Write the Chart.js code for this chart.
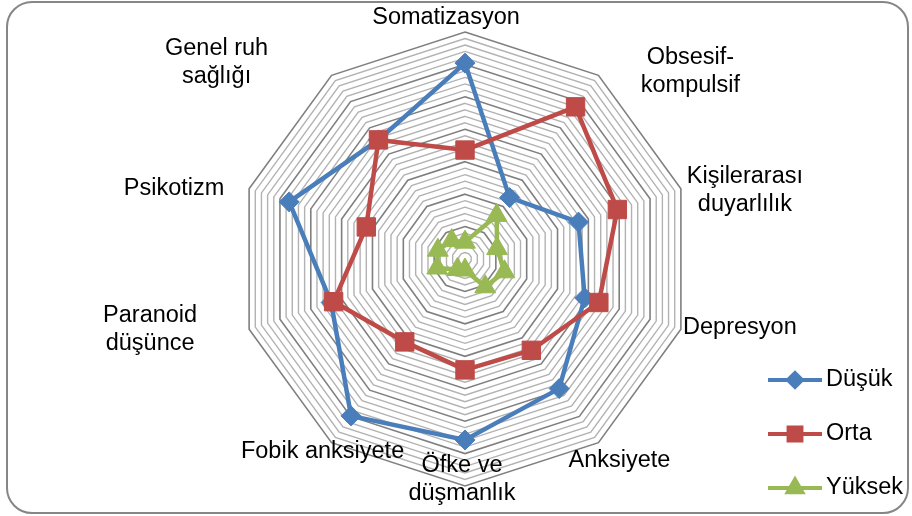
<!DOCTYPE html>
<html>
<head>
<meta charset="utf-8">
<script src="https://cdn.jsdelivr.net/npm/chart.js@4.4.0/dist/chart.umd.min.js"></script>
<style>
  html, body { margin: 0; padding: 0; background: #fff; }
  #wrap { width: 912px; height: 516px; position: relative; }
</style>
</head>
<body>
<div id="wrap"><canvas id="radar"></canvas></div>
<script>
// axes, clockwise from the top
const categories = [
    'Somatizasyon',
    ['Obsesif-', 'kompulsif'],
    ['Kişilerarası', 'duyarlılık'],
    'Depresyon',
    'Anksiyete',
    ['Öfke ve', 'düşmanlık'],
    'Fobik anksiyete',
    ['Paranoid', 'düşünce'],
    'Psikotizm',
    ['Genel ruh', 'sağlığı']
];
const seriesNames = ['Düşük', 'Orta', 'Yüksek'];
const dusuk  = [3.02, 1.17, 1.84, 1.94, 2.47, 2.79, 2.99, 2.17, 2.85, 2.27];
const orta   = [1.68, 2.90, 2.47, 2.17, 1.74, 1.71, 1.58, 2.13, 1.60, 2.27];
const yuksek = [0.26, 0.83, 0.52, 0.64, 0.53, 0.17, 0.20, 0.45, 0.44, 0.35];
const scaleMin = 0;
const scaleMax = 3.5;
const minorStep = 0.1;
const majorEvery = 5;

const FONT = '"Liberation Sans", Arial, sans-serif';
const colors = ['#4A7EBB', '#BE4B48', '#98B954'];
const styles = ['rectRot', 'rect', 'triangle'];
const radii = [10, 13, 12];

// where each axis label sits, relative to the outer ring vertex
const labelOffsets = [[-19, -14], [92, -4], [64, 2], [59, -2], [21, 18], [-3, -6], [-9, 9], [-99, 0], [-75, 0], [-115, -13]];

const frame = {
    id: 'frame',
    beforeDraw(chart) {
        const c = chart.ctx;
        c.save();
        c.fillStyle = '#fff';
        c.fillRect(0, 0, chart.width, chart.height);
        c.strokeStyle = '#868686';
        c.lineWidth = 2;
        c.beginPath();
        c.roundRect(7, 2, 901, 511, 25);
        c.stroke();
        c.restore();
    }
};

const axisLabels = {
    id: 'axisLabels',
    afterDraw(chart) {
        const r = chart.scales.r;
        const c = chart.ctx;
        c.save();
        c.font = '23.5px ' + FONT;
        c.fillStyle = '#000';
        c.textAlign = 'center';
        c.textBaseline = 'middle';
        const lh = 28;
        categories.forEach((lab, i) => {
            const p = r.getPointPosition(i, r.drawingArea);
            const x = p.x + labelOffsets[i][0];
            const y = p.y + labelOffsets[i][1];
            const lines = Array.isArray(lab) ? lab : [lab];
            lines.forEach((t, j) => {
                c.fillText(t, x, y + (j - (lines.length - 1) / 2) * lh);
            });
        });
        c.restore();
    }
};

const sideLegend = {
    id: 'sideLegend',
    afterDraw(chart) {
        const c = chart.ctx;
        c.save();
        c.font = '23.5px ' + FONT;
        c.textBaseline = 'middle';
        c.fillStyle = '#000';
        chart.data.datasets.forEach((ds, i) => {
            const y = 380 + i * 54;
            c.strokeStyle = ds.borderColor;
            c.lineWidth = 4;
            c.beginPath();
            c.moveTo(768, y);
            c.lineTo(822, y);
            c.stroke();
            Chart.helpers.drawPoint(c, {
                pointStyle: ds.pointStyle, radius: ds.pointRadius * 0.7,
                borderWidth: 1, rotation: 0
            }, 795, y);
            c.fillStyle = ds.borderColor;
            c.fill();
            c.fillStyle = '#000';
            c.fillText(ds.label, 826, y);
        });
        c.restore();
    }
};

const isMajor = (g) => Math.round(g.tick.value / minorStep) % majorEvery === 0;

const seriesData = [dusuk, orta, yuksek];
const ctx = document.getElementById('radar');
new Chart(ctx, {
    type: 'radar',
    data: {
        labels: categories,
        datasets: seriesData.map((d, i) => ({
            label: seriesNames[i],
            data: d,
            borderColor: colors[i],
            backgroundColor: colors[i],
            pointBackgroundColor: colors[i],
            pointBorderColor: colors[i],
            pointStyle: styles[i],
            pointRadius: radii[i],
            pointBorderWidth: 1,
            borderWidth: 4.5,
            fill: false,
            tension: 0,
            order: 3 - i
        }))
    },
    options: {
        responsive: true,
        maintainAspectRatio: false,
        animation: false,
        layout: {
            padding: { left: 238, right: 220, top: 32, bottom: 30 }
        },
        plugins: {
            legend: { display: false },
            tooltip: { enabled: false }
        },
        scales: {
            r: {
                min: scaleMin,
                max: scaleMax,
                beginAtZero: true,
                ticks: { display: false, stepSize: minorStep },
                pointLabels: { display: false },
                angleLines: { display: false },
                grid: {
                    color: (g) => isMajor(g) ? '#7f7f7f' : '#b2b2b2',
                    lineWidth: (g) => isMajor(g) ? 1.6 : 1.4
                }
            }
        }
    },
    plugins: [frame, axisLabels, sideLegend]
});
</script>
</body>
</html>
